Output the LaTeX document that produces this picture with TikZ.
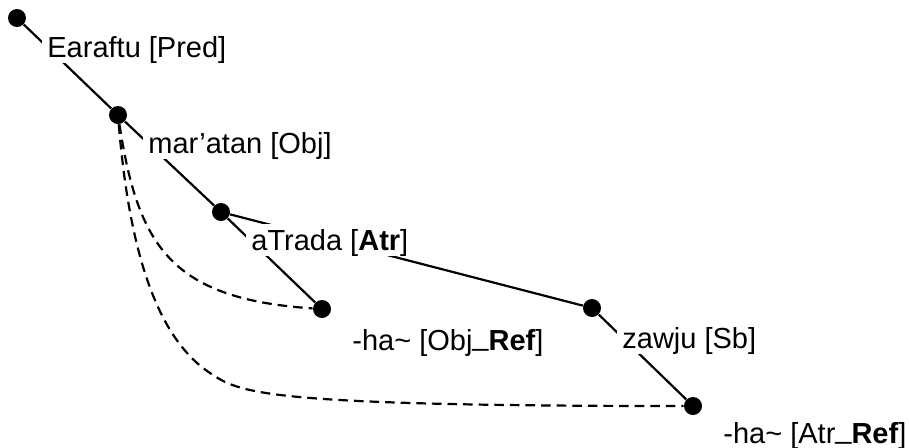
\documentclass[tikz,border=0pt]{standalone}
\usepackage{fontspec}
\setmainfont{Liberation Sans}

\newcommand{\refus}{\raisebox{0.17em}{\_}}

\tikzset{
  dot/.style={circle,fill=black,inner sep=0pt,minimum size=9pt},
  lbl/.style={anchor=base west,fill=white,inner xsep=2.5pt,inner ysep=0pt,
    text height=13pt,text depth=3pt,font=\fontsize{14.5}{17}\selectfont},
  deprel/.style={line width=1.1pt},
  coref/.style={line width=1.1pt,dash pattern=on 4.8pt off 3pt}
}

\begin{document}
\begin{tikzpicture}[x=0.5pt,y=-0.5pt]
  \useasboundingbox (0,0) rectangle (909,447);
  \node[dot] (d1) at (17,18) {};
  \node[dot] (d2) at (118,115) {};
  \node[dot] (d3) at (221,212) {};
  \node[dot] (d4) at (322,309) {};
  \node[dot] (d5) at (592,308) {};
  \node[dot] (d6) at (693,406) {};
  \path[deprel]
    (d1) edge (d2)
    (d2) edge (d3)
    (d3) edge (d4)
         edge (d5)
    (d5) edge (d6);
  \draw[coref] (d2) .. controls +(20,130) and +(-152,-10) .. (d4);
  \draw[coref] (d2) .. controls (130,260) and (160,340) .. (210,373)
                    .. controls (240,393) and (260,406) .. (d6);
  \node[lbl] (l1) at ([shift={(25,39)}]d1) {Earaftu [Pred]};
  \node[lbl] (l2) at ([shift={(25,38)}]d2) {mar’atan [Obj]};
  \node[lbl] (l3) at ([shift={(25,38)}]d3) {aTrada [\textbf{Atr}]};
  \node[lbl] (l4) at ([shift={(25,41)}]d4) {-ha\textasciitilde{} [Obj\refus\textbf{Ref}]};
  \node[lbl] (l5) at ([shift={(25,40)}]d5) {zawju [Sb]};
  \node[lbl] (l6) at ([shift={(25,37)}]d6) {-ha\textasciitilde{} [Atr\refus\textbf{Ref}]};
\end{tikzpicture}
\end{document}
